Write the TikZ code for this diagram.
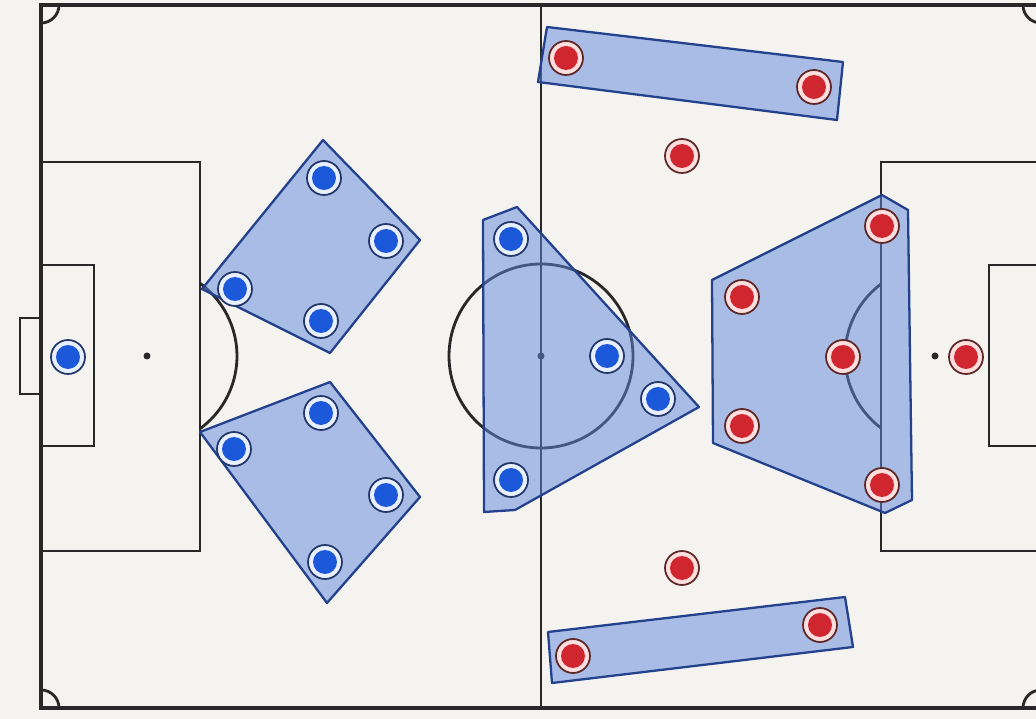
\documentclass[tikz,border=0pt]{standalone}
\usepackage{tikz}
\usetikzlibrary{positioning}
\definecolor{pitchbg}{RGB}{244, 243, 239}
\definecolor{linegray}{RGB}{40, 40, 40}
\definecolor{homeblue}{RGB}{28, 88, 218}
\definecolor{homering}{RGB}{232, 240, 255}
\definecolor{homeedge}{RGB}{35, 55, 105}
\definecolor{awayred}{RGB}{208, 38, 48}
\definecolor{awayring}{RGB}{252, 222, 222}
\definecolor{awayedge}{RGB}{95, 40, 40}
\definecolor{zonefill}{RGB}{95, 135, 220}
\definecolor{zoneedge}{RGB}{35, 65, 140}
\tikzset{
  pitchline/.style={draw=linegray, line width=1.6pt},
  spotdot/.style={fill=linegray},
  homeplayer/.style={circle, draw=homeedge, fill=homering, line width=1pt,
              minimum size=0.68cm, inner sep=0pt,
              path picture={\fill[homeblue] (path picture bounding box.center) circle (0.24cm);}},
  awayplayer/.style={circle, draw=awayedge, fill=awayring, line width=1pt,
              minimum size=0.68cm, inner sep=0pt,
              path picture={\fill[awayred] (path picture bounding box.center) circle (0.24cm);}},
  zone/.style={draw=zoneedge, line width=1.3pt, fill=zonefill, fill opacity=0.5,
              line join=round},
}

\begin{document}
\begin{tikzpicture}[x=0.02cm, y=-0.02cm]
  \fill[pitchbg] (0,0) rectangle (1036,719);
  \useasboundingbox (0,0) rectangle (1036,719);
  \clip (0,0) rectangle (1036,719);

  % pitch markings
  \draw[pitchline, line width=2pt] (41,5) rectangle (1041,708);
  \draw[pitchline] (541,5) -- (541,708);
  \draw[pitchline] (541,356) circle (92);
  \draw[pitchline] (41,162) rectangle (200,551);
  \draw[pitchline] (41,265) rectangle (94,446);
  \draw[pitchline] (20,318) rectangle (41,394);
  \draw[pitchline] (881,162) rectangle (1201,551);
  \draw[pitchline] (989,265) rectangle (1095,446);
  \draw[pitchline] (147,356) ++(-53.9:90) arc[start angle=-53.9, end angle=53.9, radius=90];
  \draw[pitchline] (935,356) ++(126.9:90) arc[start angle=126.9, end angle=233.1, radius=90];
  \draw[pitchline] (59,5) arc[start angle=0, end angle=90, radius=18];
  \draw[pitchline] (41,690) arc[start angle=-90, end angle=0, radius=18];
  \draw[pitchline] (1023,5) arc[start angle=180, end angle=90, radius=18];
  \draw[pitchline] (1023,708) arc[start angle=180, end angle=270, radius=18];
  \fill[spotdot] (147,356) circle (3.5);
  \fill[spotdot] (541,356) circle (3.5);
  \fill[spotdot] (935,356) circle (3.5);

  % zones
  \draw[zone] (323,140) -- (420,240) -- (330,353) -- (202,289) -- cycle;
  \draw[zone] (330,382) -- (420,497) -- (327,603) -- (200,432) -- cycle;
  \draw[zone] (483,220) -- (517,207) -- (699,407) -- (515,510) -- (484,512) -- cycle;
  \draw[zone] (712,280) -- (882,195) -- (908,210) -- (912,500) -- (885,513) -- (713,443) -- cycle;
  \draw[zone] (547,27) -- (843,62) -- (837,120) -- (538,82) -- cycle;
  \draw[zone] (548,632) -- (845,597) -- (853,647) -- (552,683) -- cycle;

  % home side
  \node[homeplayer] (home_gk) at (68,357) {};
  \node[homeplayer] (home_u1) at (324,178) {};
  \node[homeplayer] (home_u2) at (386,241) {};
  \node[homeplayer] (home_u3) at (235,289) {};
  \node[homeplayer] (home_u4) at (321,321) {};
  \node[homeplayer] (home_l1) at (321,413) {};
  \node[homeplayer] (home_l2) at (234,449) {};
  \node[homeplayer] (home_l3) at (386,495) {};
  \node[homeplayer] (home_l4) at (325,562) {};
  \node[homeplayer] (home_m1) at (511,239) {};
  \node[homeplayer] (home_m2) at (607,356) {};
  \node[homeplayer] (home_m3) at (658,399) {};
  \node[homeplayer] (home_m4) at (511,480) {};

  % away side
  \node[awayplayer] (away_t1) at (566,58) {};
  \node[awayplayer] (away_t2) at (814,87) {};
  \node[awayplayer] (away_f1) at (682,156) {};
  \node[awayplayer] (away_d1) at (882,226) {};
  \node[awayplayer] (away_d2) at (742,297) {};
  \node[awayplayer] (away_d3) at (843,357) {};
  \node[awayplayer] (away_d4) at (742,426) {};
  \node[awayplayer] (away_d5) at (882,485) {};
  \node[awayplayer] (away_gk) at (966,357) {};
  \node[awayplayer] (away_f2) at (682,568) {};
  \node[awayplayer] (away_b1) at (573,656) {};
  \node[awayplayer] (away_b2) at (820,625) {};
\end{tikzpicture}
\end{document}
